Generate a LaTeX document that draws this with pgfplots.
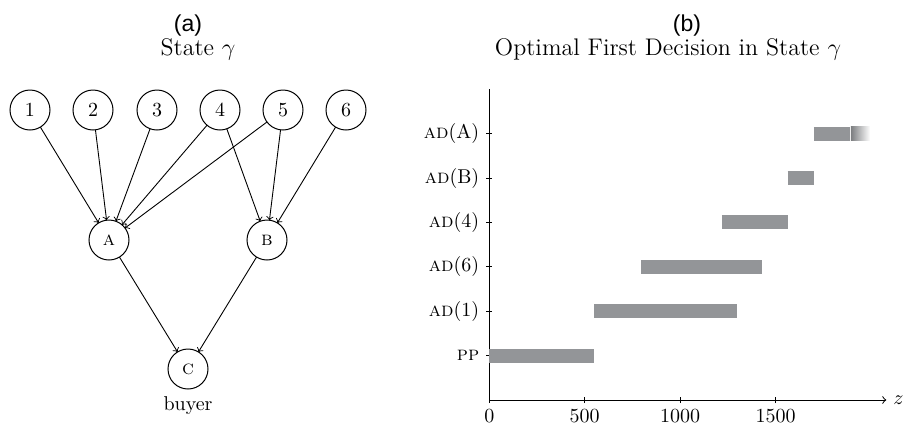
\documentclass[border=0pt]{standalone}
\usepackage{pgfplots}
\pgfplotsset{compat=1.18}
\usepackage{fontspec}
\newfontfamily\arialfont{Liberation Sans}
\definecolor{barcol}{RGB}{147,149,152}
\begin{document}
\begin{tikzpicture}
\path[use as bounding box] (0,0) rectangle (453pt,212pt);
% ---------------- panel (a): network, in pixel coordinates ----------------
\begin{axis}[at={(0pt,0pt)}, anchor=south west, scale only axis,
  width=200pt, height=212pt, xmin=0, xmax=400, ymin=0, ymax=424,
  y dir=reverse, hide axis, clip=false]
\pgfplotsset{edge/.style={->, line width=0.45pt, shorten <=10pt, shorten >=10pt, forget plot}}
\addplot[edge] coordinates {(30,110) (109,240)};
\addplot[edge] coordinates {(93,110) (109,240)};
\addplot[edge] coordinates {(157,110) (109,240)};
\addplot[edge] coordinates {(220,110) (109,240)};
\addplot[edge] coordinates {(283,110) (109,240)};
\addplot[edge] coordinates {(220,110) (267,240)};
\addplot[edge] coordinates {(283,110) (267,240)};
\addplot[edge] coordinates {(346,110) (267,240)};
\addplot[edge] coordinates {(109,240) (188,369)};
\addplot[edge] coordinates {(267,240) (188,369)};
\addplot[only marks, mark=*, mark size=10pt,
  mark options={fill=white, draw=black, line width=0.5pt},
  nodes near coords, point meta=explicit symbolic,
  every node near coord/.append style={anchor=center}] table[meta=label] {
x y label
30 110 1
93 110 2
157 110 3
220 110 4
283 110 5
346 110 6
};
\addplot[only marks, mark=*, mark size=10pt,
  mark options={fill=white, draw=black, line width=0.5pt},
  nodes near coords, point meta=explicit symbolic,
  every node near coord/.append style={anchor=center, font=\scshape}] table[meta=label] {
x y label
109 240 a
267 240 b
188 369 c
};
\node[anchor=base] at (axis cs:188,410) {buyer};
\node[anchor=base, font=\arialfont\fontsize{11.5}{13}\selectfont] at (axis cs:188,31.5) {(a)};
\node[anchor=base, font=\large] at (axis cs:198,55) {State $\gamma$};
\node[anchor=base, font=\arialfont\fontsize{11.5}{13}\selectfont] at (axis cs:687,31.5) {(b)};
\node[anchor=base, font=\large] at (axis cs:668,55) {Optimal First Decision in State $\gamma$};
\end{axis}
% ---------------- panel (b): optimal first decision ----------------
\begin{axis}[at={(244.65pt,12pt)}, anchor=south west, scale only axis,
  width=198.5pt, height=155.4pt,
  xmin=0, xmax=2080, ymin=0, ymax=7,
  axis x line=bottom, axis y line=left,
  x axis line style={-to}, y axis line style={-},
  axis line style={line width=0.5pt},
  xtick={0,500,1000,1500}, ytick={1,2,3,4,5,6},
  x tick label style={/pgf/number format/1000 sep={}},
  yticklabels={{\textsc{pp}},{\textsc{ad}(1)},{\textsc{ad}(6)},{\textsc{ad}(4)},{\textsc{ad}(B)},{\textsc{ad}(A)}},
  tick align=center, major tick length=3pt,
  tick style={black, line width=0.4pt},
  clip=false]
\addplot[barcol, line width=7pt] coordinates {(0,1) (550,1)};
\addplot[barcol, line width=7pt] coordinates {(550,2) (1297,2)};
\addplot[barcol, line width=7pt] coordinates {(795,3) (1428,3)};
\addplot[barcol, line width=7pt] coordinates {(1218,4) (1563,4)};
\addplot[barcol, line width=7pt] coordinates {(1563,5) (1700,5)};
\addplot[barcol, line width=7pt] coordinates {(1700,6) (1888,6)};
\addplot[draw=none, left color=barcol!85!black, right color=white]
  coordinates {(1895,5.842) (1995,5.842) (1995,6.158) (1895,6.158)} -- cycle;
\node[anchor=west] at (axis cs:2080,0) {$z$};
\end{axis}
\end{tikzpicture}
\end{document}
